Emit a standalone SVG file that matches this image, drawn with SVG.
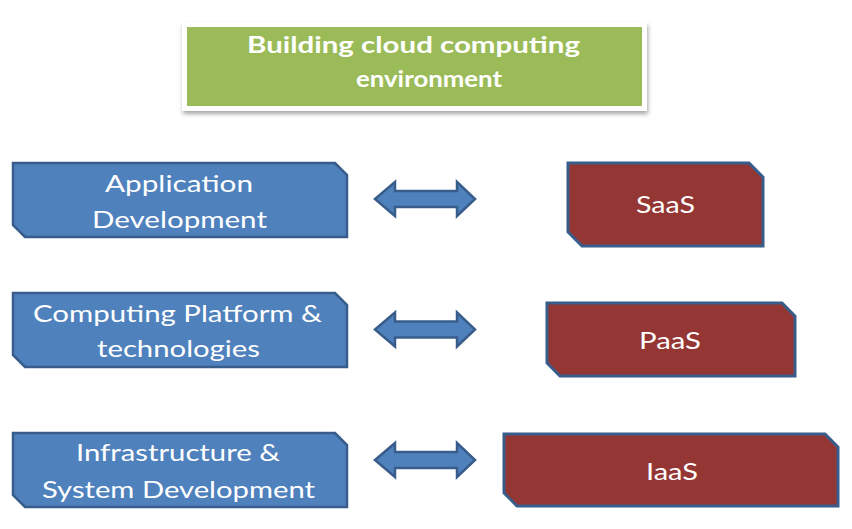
<svg xmlns="http://www.w3.org/2000/svg" width="852" height="529" viewBox="0 0 852 529">
<defs>
<style>
.blue{fill:#4F81BD;stroke:#385D8A;stroke-width:2.5;stroke-linejoin:miter}
.red{fill:#943634;stroke:#385D8A;stroke-width:3;stroke-linejoin:miter}
.arr{fill:#4F81BD;stroke:#385D8A;stroke-width:2.5;stroke-linejoin:miter}
.t{font-family:Lato,"Open Sans","Liberation Sans",sans-serif;font-size:23px;fill:#FFFFFF;text-anchor:middle}
.tt{font-family:Lato,"Open Sans","Liberation Sans",sans-serif;font-size:22px;font-weight:bold;fill:#FFFFFF;text-anchor:middle}
</style>
<filter id="sh" x="-5%" y="-10%" width="110%" height="130%">
<feDropShadow dx="1" dy="3" stdDeviation="2" flood-color="#000" flood-opacity="0.35"/>
</filter>
</defs>
<rect width="852" height="529" fill="#FFFFFF"/>
<g id="title">
<rect x="182" y="22" width="465" height="89" fill="#FFFFFF" filter="url(#sh)"/>
<rect x="187" y="27" width="455" height="79" fill="#9BBB59"/>
<text class="tt" x="413.5" y="53" textLength="333" lengthAdjust="spacingAndGlyphs">Building cloud computing</text>
<text class="tt" x="429" y="87" textLength="146" lengthAdjust="spacingAndGlyphs">environment</text>
</g>
<g id="app-dev">
<polygon class="blue" points="13,163 335,163 347,175 347,237 25,237 13,225"/>
<text class="t" x="179" y="192" textLength="148" lengthAdjust="spacingAndGlyphs">Application</text>
<text class="t" x="179.5" y="228" textLength="175" lengthAdjust="spacingAndGlyphs">Development</text>
</g>
<g id="platform">
<polygon class="blue" points="13,293 335,293 347,305 347,367 25,367 13,355"/>
<text class="t" x="177.5" y="322" textLength="289" lengthAdjust="spacingAndGlyphs">Computing Platform &amp;</text>
<text class="t" x="178.5" y="357" textLength="163" lengthAdjust="spacingAndGlyphs">technologies</text>
</g>
<g id="infra">
<polygon class="blue" points="13,433 335,433 347,445 347,507 25,507 13,495"/>
<text class="t" x="178" y="461" textLength="204" lengthAdjust="spacingAndGlyphs">Infrastructure &amp;</text>
<text class="t" x="178.5" y="498" textLength="273" lengthAdjust="spacingAndGlyphs">System Development</text>
</g>
<g id="saas">
<polygon class="red" points="568,163 749,163 763,177 763,246 582,246 568,232"/>
<text class="t" x="665.5" y="213" textLength="59" lengthAdjust="spacingAndGlyphs">SaaS</text>
</g>
<g id="paas">
<polygon class="red" points="547,303 782,303 795,316 795,376 560,376 547,363"/>
<text class="t" x="670" y="349" textLength="62" lengthAdjust="spacingAndGlyphs">PaaS</text>
</g>
<g id="iaas">
<polygon class="red" points="504,434 825,434 838,447 838,506 517,506 504,493"/>
<text class="t" x="672" y="480" textLength="52" lengthAdjust="spacingAndGlyphs">IaaS</text>
</g>
<g id="connectors">
<path class="arr" d="M375,199 L395,182 L395,191 L457,191 L457,182 L475,199 L457,216 L457,207 L395,207 L395,216 Z"/>
<path class="arr" d="M375,329.5 L395,312.5 L395,321.5 L457,321.5 L457,312.5 L475,329.5 L457,346.5 L457,337.5 L395,337.5 L395,346.5 Z"/>
<path class="arr" d="M375,460 L395,443 L395,452 L457,452 L457,443 L475,460 L457,477 L457,468 L395,468 L395,477 Z"/>
</g>
</svg>
